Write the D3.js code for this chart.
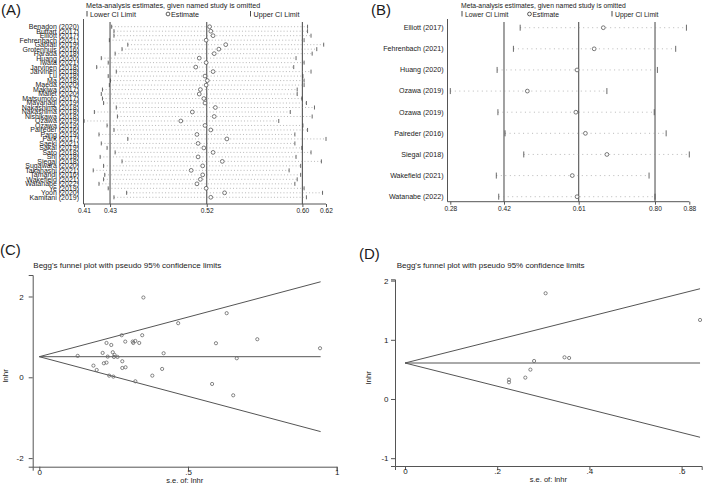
<!DOCTYPE html>
<html><head><meta charset="utf-8">
<script src="https://cdn.jsdelivr.net/npm/d3@7"></script>
<style>body{margin:0;background:#fff}svg{display:block;font-family:"Liberation Sans",Arial,sans-serif}</style>
</head><body><svg id="c" width="709" height="486"></svg>
<script>
// ---------- Panel A: leave-one-out (all studies) ----------
const aStudies = ["Benadon (2020)","Buffart (2017)","Elliott (2017)","Fehrenbach (2021)","Gabiati (2019)","Grotenhuis (2016)","Harada (2018)","Huang (2020)","Iwata (2021)","Jarvinen (2018)","Jarvinen (2018)","Lu (2018)","Ma (2018)","Maeda (2020)","Makiwa (2017)","Mallet (2020)","Matsumoto (2017)","Mayanagi (2019)","Nakashima (2018)","Nakashima (2018)","Nishikawa (2018)","Ozawa (2019)","Ozawa (2019)","Paireder (2016)","Pang (2019)","Park (2017)","Saeki (2021)","Sakai (2019)","Sato (2018)","Shi (2018)","Siegal (2018)","Sugawara (2020)","Takahashi (2021)","Tamandl (2016)","Wakefield (2021)","Watanabe (2022)","Ye (2019)","Yoon (2020)","Kamitani (2019)"];
const aLower = [0.434,0.436,0.436,0.432,0.448,0.443,0.437,0.425,0.431,0.421,0.438,0.431,0.433,0.432,0.426,0.425,0.426,0.427,0.438,0.419,0.439,0.410,0.430,0.436,0.423,0.448,0.425,0.430,0.437,0.424,0.443,0.427,0.418,0.428,0.427,0.423,0.431,0.447,0.436];
const aEstimate = [0.519,0.520,0.522,0.516,0.533,0.527,0.523,0.510,0.516,0.507,0.522,0.515,0.517,0.516,0.511,0.510,0.514,0.515,0.524,0.504,0.523,0.494,0.515,0.520,0.508,0.534,0.509,0.514,0.522,0.509,0.530,0.513,0.503,0.513,0.511,0.508,0.516,0.532,0.520];
const aUpper = [0.604,0.604,0.607,0.601,0.618,0.612,0.608,0.594,0.601,0.592,0.607,0.600,0.601,0.601,0.595,0.595,0.599,0.603,0.610,0.589,0.608,0.579,0.600,0.604,0.593,0.620,0.593,0.599,0.607,0.594,0.616,0.598,0.588,0.598,0.595,0.593,0.601,0.617,0.603];
const aOverall = [0.4326,0.5165,0.5995];
const aTicks = [0.41,0.4326,0.5165,0.5995,0.62];
const aTickLabels = ["0.41","0.43","0.52","0.60","0.62"];

// ---------- Panel B: leave-one-out (subgroup) ----------
const bStudies = ["Elliott (2017)","Fehrenbach (2021)","Huang (2020)","Ozawa (2019)","Ozawa (2019)","Paireder (2016)","Siegal (2018)","Wakefield (2021)","Watanabe (2022)"];
const bLower = [0.459,0.442,0.401,0.2833,0.403,0.421,0.468,0.399,0.405];
const bEstimate = [0.668,0.645,0.602,0.477,0.599,0.623,0.677,0.590,0.602];
const bUpper = [0.877,0.850,0.804,0.677,0.796,0.826,0.8842,0.783,0.798];
const bOverall = [0.4183,0.6061,0.798];
const bTicks = [0.2833,0.4183,0.6061,0.798,0.8842];
const bTickLabels = ["0.28","0.42","0.61","0.80","0.88"];

// ---------- Panel C: Begg's funnel (all studies) ----------
const cSE = [0.129,0.350,0.630,0.467,0.277,0.346,0.733,0.289,0.314,0.323,0.316,0.336,0.226,0.594,0.242,0.944,0.213,0.247,0.418,0.253,0.230,0.251,0.263,0.664,0.279,0.226,0.217,0.182,0.290,0.279,0.413,0.193,0.380,0.235,0.249,0.323,0.581,0.652];
const cLnHR = [0.53,1.975,1.587,1.339,1.041,1.041,0.942,0.884,0.884,0.90,0.85,0.85,0.85,0.843,0.80,0.719,0.603,0.62,0.595,0.554,0.512,0.504,0.504,0.471,0.397,0.364,0.347,0.289,0.248,0.231,0.207,0.182,0.041,0.041,0.017,-0.099,-0.165,-0.446];
const cTheta = 0.51, cSEmax = 0.946;
const cXTicks = [0,0.5,1], cXLabels = ["0",".5","1"];
const cYTicks = [-2,0,2], cYLabels = ["-2","0","2"];

// ---------- Panel D: Begg's funnel (subgroup) ----------
const dSE = [0.305,0.640,0.280,0.346,0.356,0.272,0.261,0.2256,0.2256];
const dLnHR = [1.786,1.335,0.642,0.704,0.693,0.496,0.361,0.327,0.282];
const dTheta = 0.608, dSEmax = 0.640;
const dXTicks = [0,0.2,0.4,0.6], dXLabels = ["0",".2",".4",".6"];
const dYTicks = [-1,0,1,2], dYLabels = ["-1","0","1","2"];

const svg = d3.select("#c");
const TXT = "#1a1a1a", LINE = "#555", DOT = "#8a8a8a";
const FONT = '"Liberation Sans",Arial,sans-serif';

function panelLabel(t, x, y){
  svg.append("text").attr("x",x).attr("y",y).attr("font-size",15).attr("fill",TXT).text(t);
}

function influence(o){
  const g = svg.append("g");
  const x = d3.scaleLinear().domain(o.domain).range(o.range);
  const y = d3.scalePoint().domain(d3.range(o.studies.length)).range(o.rows);
  g.append("text").attr("x",o.titleX).attr("y",8).attr("font-size",o.titleFs).attr("fill",TXT)
    .text("Meta-analysis estimates, given named study is omitted");
  const ly = 16.5;
  g.append("line").attr("x1",o.leg[0]).attr("x2",o.leg[0]).attr("y1",ly-5.5).attr("y2",ly).attr("stroke",TXT).attr("stroke-width",0.8);
  g.append("text").attr("x",o.leg[0]+3).attr("y",ly).attr("font-size",o.titleFs).attr("fill",TXT).text("Lower CI Limit");
  g.append("circle").attr("cx",o.leg[1]).attr("cy",ly-2.5).attr("r",1.9).attr("fill","none").attr("stroke",TXT).attr("stroke-width",0.7);
  g.append("text").attr("x",o.leg[1]+3).attr("y",ly).attr("font-size",o.titleFs).attr("fill",TXT).text("Estimate");
  g.append("line").attr("x1",o.leg[2]).attr("x2",o.leg[2]).attr("y1",ly-5.5).attr("y2",ly).attr("stroke",TXT).attr("stroke-width",0.8);
  g.append("text").attr("x",o.leg[2]+3).attr("y",ly).attr("font-size",o.titleFs).attr("fill",TXT).text("Upper CI Limit");
  g.append("line").attr("x1",o.yAxisX).attr("x2",o.yAxisX).attr("y1",o.top).attr("y2",o.axisY).attr("stroke",LINE).attr("stroke-width",1);
  const ax = d3.axisBottom(x).tickValues(o.ticks).tickSize(3).tickFormat((d,i)=>o.tickLabels[i]);
  const axg = g.append("g").attr("transform",`translate(0,${o.axisY})`).call(ax);
  axg.select(".domain").attr("stroke",LINE).attr("d",`M${o.yAxisX},0H${o.range[1]}`);
  axg.selectAll(".tick line").attr("stroke",LINE);
  axg.selectAll(".tick text").attr("font-size",o.tickFs).attr("fill",TXT).attr("font-family",FONT).attr("dy","0.75em").attr("y",4);
  g.selectAll(".ref").data(o.overall).join("line")
    .attr("x1",d=>x(d)).attr("x2",d=>x(d)).attr("y1",o.top+3).attr("y2",o.axisY)
    .attr("stroke",LINE).attr("stroke-width",1.1);
  const idx = d3.range(o.studies.length);
  g.selectAll(".ci").data(idx).join("line")
    .attr("x1",i=>x(o.lower[i])).attr("x2",i=>x(o.upper[i])).attr("y1",i=>y(i)).attr("y2",i=>y(i))
    .attr("stroke",DOT).attr("stroke-width",0.6).attr("stroke-dasharray",o.dash);
  g.selectAll(".lo").data(idx).join("line")
    .attr("x1",i=>x(o.lower[i])).attr("x2",i=>x(o.lower[i])).attr("y1",i=>y(i)-o.tick).attr("y2",i=>y(i)+o.tick)
    .attr("stroke","#444").attr("stroke-width",0.8);
  g.selectAll(".up").data(idx).join("line")
    .attr("x1",i=>x(o.upper[i])).attr("x2",i=>x(o.upper[i])).attr("y1",i=>y(i)-o.tick).attr("y2",i=>y(i)+o.tick)
    .attr("stroke","#444").attr("stroke-width",0.8);
  g.selectAll(".est").data(idx).join("circle")
    .attr("cx",i=>x(o.est[i])).attr("cy",i=>y(i)).attr("r",1.9)
    .attr("fill","#fff").attr("stroke","#444").attr("stroke-width",0.7);
  g.selectAll(".lab").data(idx).join("text")
    .attr("x",o.labelX).attr("y",i=>y(i)+2.4).attr("text-anchor","end")
    .attr("font-size",o.labFs).attr("fill",TXT).text(i=>o.studies[i]);
}

influence({studies:aStudies, lower:aLower, est:aEstimate, upper:aUpper, overall:aOverall,
  ticks:aTicks, tickLabels:aTickLabels, domain:[0.41,0.62], range:[84,326], rows:[26.7,197.3],
  axisY:204, top:19, yAxisX:83.5, labelX:79, titleX:86, titleFs:7.2, labFs:7, tickFs:6.6,
  leg:[87,168,250.5], dash:"1,2.2", tick:2});
influence({studies:bStudies, lower:bLower, est:bEstimate, upper:bUpper, overall:bOverall,
  ticks:bTicks, tickLabels:bTickLabels, domain:[0.2833,0.8842], range:[450.3,689.3], rows:[27.7,196.7],
  axisY:201.7, top:19, yAxisX:447.5, labelX:443.5, titleX:461, titleFs:6.8, labFs:7.1, tickFs:6.6,
  leg:[462,529.5,612], dash:"1,3.5", tick:3});

panelLabel("(A)",1,15);
panelLabel("(B)",371,15);
panelLabel("(C)",0,255);
panelLabel("(D)",359,259);

function funnel(o){
  const g = svg.append("g");
  const x = d3.scaleLinear().domain(o.xd).range(o.xr);
  const y = d3.scaleLinear().domain(o.yd).range(o.yr);
  g.append("text").attr("x",o.titleX).attr("y",267.5).attr("font-size",8).attr("fill",TXT)
    .text("Begg's funnel plot with pseudo 95% confidence limits");
  const xa = g.append("g").attr("transform",`translate(0,${o.yr[0]})`)
    .call(d3.axisBottom(x).tickValues(o.xt).tickSize(4).tickFormat((d,i)=>o.xl[i]));
  const ya = g.append("g").attr("transform",`translate(${o.xr[0]},0)`)
    .call(d3.axisLeft(y).tickValues(o.yt).tickSize(4).tickFormat((d,i)=>o.yl[i]));
  [xa,ya].forEach(a=>{
    a.select(".domain").attr("stroke",LINE);
    a.selectAll(".tick line").attr("stroke",LINE);
    a.selectAll(".tick text").attr("font-size",8).attr("fill",TXT).attr("font-family",FONT);
  });
  xa.selectAll(".tick text").attr("y",2.5);
  ya.selectAll(".tick text").attr("x",o.yTickX);
  g.append("text").attr("x",(o.xr[0]+o.xr[1])/2).attr("y",o.yr[0]+16.3).attr("text-anchor","middle")
    .attr("font-size",7.5).attr("fill",TXT).text("s.e. of: lnhr");
  g.append("text").attr("transform",`translate(${o.ylabX},${(o.yr[0]+o.yr[1])/2+5}) rotate(-90)`)
    .attr("text-anchor","middle").attr("font-size",8).attr("fill",TXT).text("lnhr");
  const lines = [[o.theta, o.theta+1.96*o.seMax],[o.theta,o.theta],[o.theta,o.theta-1.96*o.seMax]];
  g.selectAll(".fl").data(lines).join("line")
    .attr("x1",x(0)).attr("y1",d=>y(d[0])).attr("x2",x(o.seMax)).attr("y2",d=>y(d[1]))
    .attr("stroke",LINE).attr("stroke-width",1);
  g.selectAll(".pt").data(d3.range(o.se.length)).join("circle")
    .attr("cx",i=>x(o.se[i])).attr("cy",i=>y(o.v[i])).attr("r",1.6)
    .attr("fill","none").attr("stroke","#666").attr("stroke-width",0.8);
}

funnel({se:cSE, v:cLnHR, theta:cTheta, seMax:cSEmax, xd:[-0.0222,1], xr:[32.7,336.7],
  yd:[-2.213,2.532], yr:[466.7,275], xt:cXTicks, xl:cXLabels, yt:cYTicks, yl:cYLabels, titleX:33.3, ylabX:8, yTickX:-9});
funnel({se:dSE, v:dLnHR, theta:dTheta, seMax:dSEmax, xd:[-0.0217,0.6436], xr:[395,701.7],
  yd:[-1.132,2.022], yr:[466,279.3], xt:dXTicks, xl:dXLabels, yt:dYTicks, yl:dYLabels, titleX:396.7, ylabX:371, yTickX:-6.5});
</script></body></html>
